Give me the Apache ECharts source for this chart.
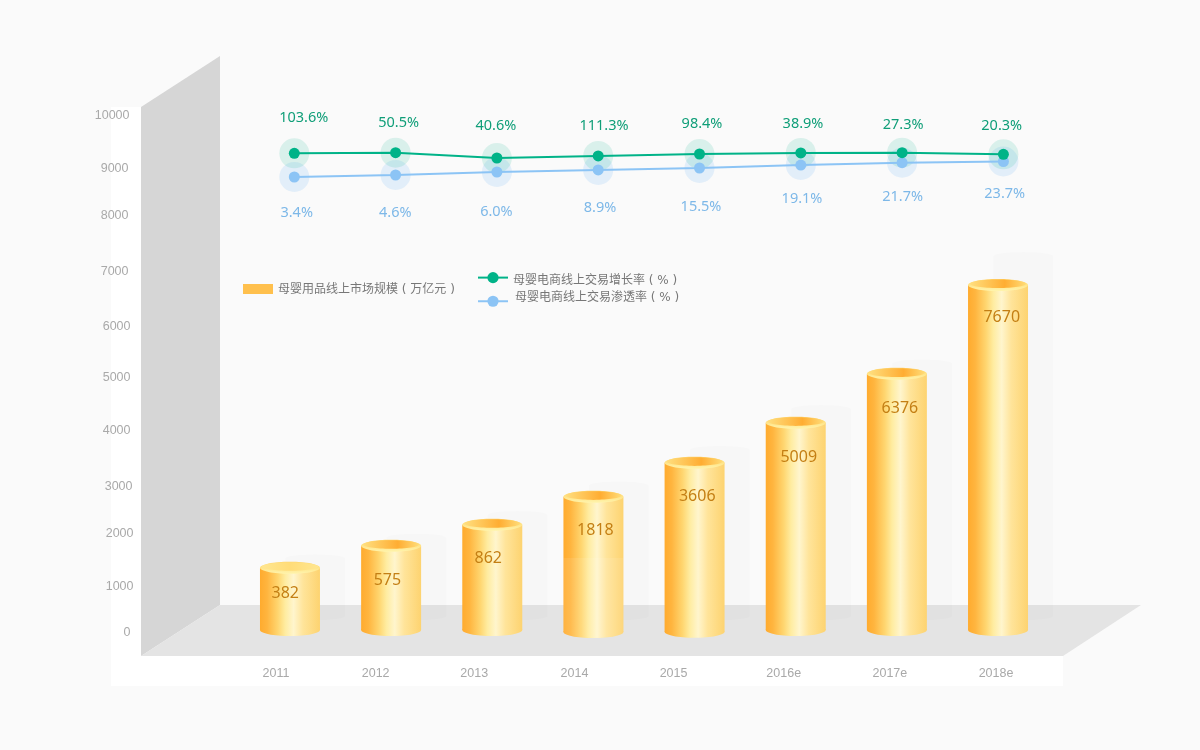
<!DOCTYPE html>
<html>
<head>
<meta charset="utf-8">
<style>html,body{margin:0;padding:0;background:#fafafa}#c{width:1200px;height:750px}</style>
<script src="https://cdn.jsdelivr.net/npm/echarts@6/dist/echarts.min.js"></script>
</head>
<body>
<div id="c"></div>
<script>
// ---- data ----
const years = ['2011','2012','2013','2014','2015','2016e','2017e','2018e'];
const marketLabels = ['382','575','862','1818','3606','5009','6376','7670'];
// heights of the cylinders as they read against the printed axis
const marketLevels = [1238,1663,2070,2611,3269,4043,4990,6712];
const marketBases = [33,33,33,-6,0,33,33,33];
const marketEchoes = [1420,1820,2260,2830,3520,4310,5190,7270];
const growthLabels = ['103.6%','50.5%','40.6%','111.3%','98.4%','38.9%','27.3%','20.3%'];
const growthLevels = [9259,9270,9168,9207,9245,9265,9270,9240];
const shareLabels = ['3.4%','4.6%','6.0%','8.9%','15.5%','19.1%','21.7%','23.7%'];
const shareLevels = [8800,8839,8897,8936,8974,9032,9077,9100];
const nameMarket = '母婴用品线上市场规模 ( 万亿元 )';
const nameGrowth = '母婴电商线上交易增长率 ( % )';
const nameShare = '母婴电商线上交易渗透率 ( % )';

// ---- label placement (styling only) ----
const yNudge = [[0.8,3],[6.5,0],[5,0],[9.8,1],[5.8,3],[4.5,3],[5,3],[1.5,5],[-2.8,5],[1.8,5],[0.8,4]];
const xNudge = [14,15.5,18,19,21,12,7,2];
const barLabelOffset = [[-4.7,26],[-3.7,34.7],[-4,34],[2,34],[2.7,34],[3,35],[3,35],[3.7,33]];
const growthOffset = [[9.4,-35],[3,-29.4],[-1,-32],[5.8,-30],[2.5,-30],[2.2,-29],[1,-27.4],[-1.7,-28.3]];
const shareOffset = [[2.4,36.3],[-.3,38.3],[-.5,40],[1.8,38],[1.5,39],[1.2,34],[.5,34.3],[1.3,32.5]];

const GREEN = '#00b388', BLUE = '#8cc4f5';
const AXIS_FONT = '"Liberation Sans", Arial, sans-serif';
const NUM_FONT = '"Noto Sans", "Open Sans", sans-serif';
const LEGEND_FONT = '"DejaVu Sans", "Noto Sans CJK SC", sans-serif';

const bodyFill = {type:'linear',x:0,y:0,x2:1,y2:0,colorStops:[
  {offset:0,color:'#ffab2e'},{offset:.12,color:'#ffb53f'},{offset:.3,color:'#ffd670'},
  {offset:.42,color:'#ffeca0'},{offset:.56,color:'#fff5cd'},{offset:.72,color:'#ffe49a'},{offset:1,color:'#fdd370'}]};
const rimFill = {type:'linear',x:0,y:0,x2:0,y2:1,colorStops:[{offset:0,color:'#ffd469'},{offset:.6,color:'#ffe78f'},{offset:1,color:'#fff4ad'}]};
const capFill = {type:'linear',x:0,y:0,x2:1,y2:0,colorStops:[{offset:0,color:'#ffde7e'},{offset:.62,color:'#ffad32'},{offset:1,color:'#ffdc78'}]};
const paleCapFill = {type:'linear',x:0,y:0,x2:1,y2:0,colorStops:[{offset:0,color:'#ffe68f'},{offset:.5,color:'#ffdc78'},{offset:1,color:'#ffe68f'}]};

function renderCylinder(params, api){
  const i = api.value(0);
  const top = api.coord([i, api.value(1)]);
  const base = api.coord([i, marketBases[i]]);
  const band = api.size([1,0])[0];
  const w = band*0.593, rx = w/2, ry = 5.5;
  const x0 = top[0]-rx, x1 = top[0]+rx;
  const echoTop = api.coord([i, marketEchoes[i]])[1];
  const echoBase = api.coord([i, 300])[1];
  const shift = band*0.25;
  const children = [
    {type:'path',shape:{pathData:`M${x0+shift} ${echoTop}A${rx} 4 0 0 1 ${x1+shift} ${echoTop}L${x1+shift} ${echoBase}A${rx} 4 0 0 1 ${x0+shift} ${echoBase}Z`},
     style:{fill:'rgba(0,0,0,0.012)'}},
    {type:'ellipse',shape:{cx:top[0],cy:base[1],rx:rx,ry:ry+.5},style:{fill:bodyFill}},
    {type:'rect',shape:{x:x0,y:top[1],width:w,height:base[1]-top[1]},style:{fill:bodyFill}},
    {type:'ellipse',shape:{cx:top[0],cy:top[1],rx:rx,ry:ry+.5},style:{fill:rimFill}},
    {type:'ellipse',shape:{cx:top[0],cy:top[1]-1.2,rx:rx-2,ry:ry-1.2},style:{fill:i===0?paleCapFill:capFill}}
  ];
  if (i === 3) {
    const vy = api.coord([i, 1426])[1];
    children.push({type:'path',shape:{pathData:`M${x0} ${vy}L${x1} ${vy}L${x1} ${base[1]}A${rx} 6 0 0 1 ${x0} ${base[1]}Z`},
      style:{fill:'rgba(255,255,255,0.09)'}});
  }
  children.push({type:'text',x:top[0]+barLabelOffset[i][0],y:top[1]+barLabelOffset[i][1],
     style:{text:marketLabels[i],fill:'#c47f14',font:'16px '+NUM_FONT,align:'center',verticalAlign:'middle'}});
  return {type:'group',children};
}

const yRich = {}, xRich = {};
yNudge.forEach((n,i)=>{
  yRich['t'+i] = {color:'#a9a9a9',fontSize:12.5,fontFamily:AXIS_FONT,
    padding:[Math.max(n[0],0)*2,n[1],Math.max(-n[0],0)*2,0]};
});
xNudge.forEach((n,i)=>{
  xRich['t'+i] = {color:'#a9a9a9',fontSize:12.5,fontFamily:AXIS_FONT,padding:[0,n*2,0,0]};
});

const legendStyle = {color:'#777777',fontSize:12,fontFamily:LEGEND_FONT};
const option = {
  animation:false,
  backgroundColor:'#fafafa',
  graphic:[
    {type:'rect',z:-10,shape:{x:111,y:107,width:30,height:579},style:{fill:'#ffffff'}},
    {type:'rect',z:-10,shape:{x:111,y:656,width:952,height:30},style:{fill:'#ffffff'}},
    {type:'polygon',z:-9,shape:{points:[[141,107],[220,56],[220,605],[141,656]]},style:{fill:'#d6d6d6'}},
    {type:'polygon',z:-9,shape:{points:[[141,656],[220,605],[1141,605],[1063,656]]},style:{fill:'#e4e4e4'}}
  ],
  legend:[
    {left:243,top:284,padding:0,itemWidth:30,itemHeight:10,icon:'rect',data:[nameMarket],
     formatter:n=>`{a|${n}}`,textStyle:{...legendStyle,rich:{a:{...legendStyle,padding:[2,0,0,0]}}}},
    {left:477,top:272,padding:0,itemWidth:30,itemHeight:14,data:[nameGrowth],
     formatter:n=>`{a|${n}}`,textStyle:{...legendStyle,rich:{a:{...legendStyle,padding:[7,0,0,0]}}}},
    {left:477,top:292,padding:0,itemWidth:30,itemHeight:14,data:[nameShare],
     formatter:n=>`{a|${n}}`,textStyle:{...legendStyle,rich:{a:{...legendStyle,padding:[0,0,6.5,2]}}}}
  ],
  grid:[
    {left:239.4,width:809.2,top:115,height:516.7},
    {left:243.65,width:810.4,top:115,height:516.7}
  ],
  xAxis:[
    {type:'category',gridIndex:0,data:years,axisLine:{show:false},axisTick:{show:false},splitLine:{show:false},
     axisLabel:{interval:0,margin:35.2,formatter:(v,i)=>`{t${i}|${v}}`,rich:xRich}},
    {type:'category',gridIndex:1,data:years,show:false}
  ],
  yAxis:[
    {type:'value',gridIndex:0,min:0,max:10000,interval:1000,axisLine:{show:false},axisTick:{show:false},splitLine:{show:false},
     axisLabel:{margin:105.9,formatter:(v,i)=>`{t${i}|${v}}`,rich:yRich}},
    {type:'value',gridIndex:1,min:0,max:10000,show:false}
  ],
  series:[
    {name:nameMarket,type:'custom',xAxisIndex:0,yAxisIndex:0,z:2,clip:false,
     itemStyle:{color:'#ffc04d'},renderItem:renderCylinder,encode:{x:0,y:1},
     data:marketLevels.map((v,i)=>[i,v])},
    {name:'share halo',type:'scatter',xAxisIndex:1,yAxisIndex:1,z:3,symbolSize:30,silent:true,
     itemStyle:{color:BLUE,opacity:.22},data:shareLevels},
    {name:'growth halo',type:'scatter',xAxisIndex:1,yAxisIndex:1,z:3,symbolSize:30,silent:true,
     itemStyle:{color:GREEN,opacity:.13},data:growthLevels},
    {name:nameShare,type:'line',xAxisIndex:1,yAxisIndex:1,z:4,symbol:'circle',symbolSize:11,showSymbol:true,
     lineStyle:{color:BLUE,width:2},itemStyle:{color:BLUE},
     data:shareLevels.map((v,i)=>({value:v,label:{show:true,position:'inside',formatter:shareLabels[i],offset:shareOffset[i],
       color:'#7db8e8',fontSize:14.5,fontFamily:NUM_FONT}}))},
    {name:nameGrowth,type:'line',xAxisIndex:1,yAxisIndex:1,z:5,symbol:'circle',symbolSize:11,showSymbol:true,
     lineStyle:{color:GREEN,width:2},itemStyle:{color:GREEN},
     data:growthLevels.map((v,i)=>({value:v,label:{show:true,position:'inside',formatter:growthLabels[i],offset:growthOffset[i],
       color:'#0f9e78',fontSize:14.5,fontFamily:NUM_FONT}}))}
  ]
};
echarts.init(document.getElementById('c')).setOption(option);
</script>
</body>
</html>
